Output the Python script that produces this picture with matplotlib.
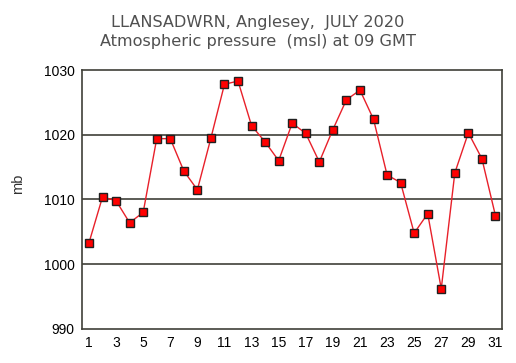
import matplotlib
matplotlib.use("Agg")
import matplotlib.pyplot as plt

# Daily pressure readings at 09 GMT, July 2020
days = list(range(1, 32))
pressure_mb = [1003.3, 1010.4, 1009.8, 1006.4, 1008.0, 1019.4, 1019.4, 1014.4,
               1011.5, 1019.5, 1027.8, 1028.3, 1021.4, 1018.9, 1016.0, 1021.8,
               1020.2, 1015.8, 1020.8, 1025.4, 1026.9, 1022.4, 1013.8, 1012.6,
               1004.8, 1007.8, 996.2, 1014.1, 1020.3, 1016.3, 1007.5]
x_ticks = list(range(1, 32, 2))
y_ticks = [990, 1000, 1010, 1020, 1030]
title_lines = ["LLANSADWRN, Anglesey,  JULY 2020",
               "Atmospheric pressure  (msl) at 09 GMT"]

fig = plt.figure(figsize=(5.16, 3.63), dpi=100)
ax = fig.add_axes([0.158, 0.094, 0.814, 0.713])

# horizontal grid lines only
for y in y_ticks[1:-1]:
    ax.axhline(y, color="#404038", linewidth=1.2, zorder=1)

ax.plot(days, pressure_mb, color="#e8202a", linewidth=1.0, zorder=2)
ax.plot(days, pressure_mb, linestyle="None", marker="s", markersize=6.2,
        markerfacecolor="#ff0000", markeredgecolor="#202020",
        markeredgewidth=1.0, zorder=3)

ax.set_xlim(0.45, 31.45)
ax.set_ylim(990, 1030)
ax.set_xticks(x_ticks)
ax.set_yticks(y_ticks)
ax.tick_params(length=0, labelsize=10, pad=5)
for lbl in ax.get_xticklabels() + ax.get_yticklabels():
    lbl.set_family("Liberation Sans")
for s in ax.spines.values():
    s.set_color("#404038")
    s.set_linewidth(1.2)

fig.text(0.035, 0.495, "mb", rotation=90, ha="center", va="center",
         fontsize=10.5, family="Liberation Sans", color="#303030")

fig.text(0.5, 0.937, title_lines[0], ha="center", va="center",
         fontsize=11.6, color="#505050")
fig.text(0.5, 0.887, title_lines[1], ha="center", va="center",
         fontsize=11.6, color="#505050")

fig.savefig("out.png", dpi=100)
